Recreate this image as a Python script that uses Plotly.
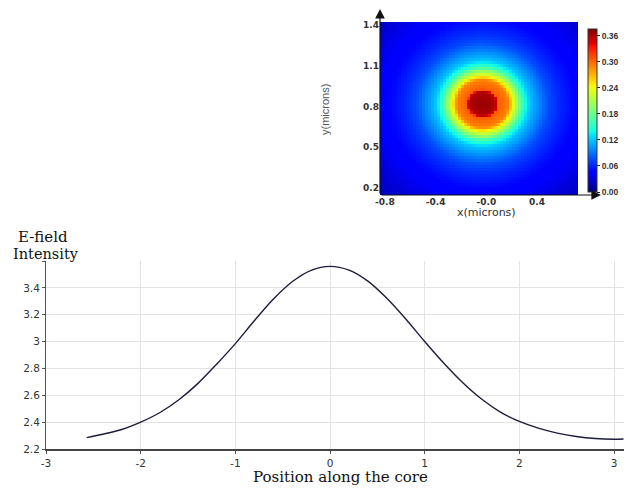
import numpy as np
import plotly.graph_objects as go

# ---------------- data ----------------
# line profile
pos_x = [-2.57, -2.4, -2.2, -2.0, -1.8, -1.6, -1.4, -1.2, -1.0, -0.8, -0.6, -0.4, -0.2,
         0.0, 0.2, 0.4, 0.6, 0.8, 1.0, 1.2, 1.4, 1.6, 1.8, 2.0, 2.2, 2.4, 2.6, 2.8, 3.0, 3.1]
intensity = [2.285, 2.31, 2.345, 2.40, 2.47, 2.565, 2.685, 2.83, 2.985, 3.155, 3.315, 3.445, 3.53,
             3.56, 3.532, 3.45, 3.322, 3.168, 3.0, 2.84, 2.695, 2.572, 2.475, 2.405, 2.355, 2.318,
             2.293, 2.278, 2.273, 2.275]
x_ticks = [-3, -2, -1, 0, 1, 2, 3]
x_ticktext = ["-3", "-2", "-1", "0", "1", "2", "3"]
y_ticks = [2.2, 2.4, 2.6, 2.8, 3.0, 3.2, 3.4, 3.6]
y_ticktext = ["2.2", "2.4", "2.6", "2.8", "3", "3.2", "3.4", ""]

# mode-field radial profile (radius in microns -> field value)
radius_um = [0.00, 0.10, 0.115, 0.125, 0.20, 0.215, 0.237, 0.276, 0.316, 0.37,
             0.45, 0.52, 0.60, 0.70, 0.80, 0.95, 1.15]
field_val = [0.368, 0.36, 0.345, 0.305, 0.29, 0.275, 0.24, 0.20, 0.155, 0.12,
             0.095, 0.075, 0.062, 0.05, 0.042, 0.03, 0.018]
spot_center = (-0.03, 0.82)
hm_xticks = [-0.8, -0.4, 0.0, 0.4]
hm_xticktext = ["-0.8", "-0.4", "-0.0", "0.4"]
hm_yticks = [0.2, 0.5, 0.8, 1.1, 1.4]
hm_yticktext = ["0.2", "0.5", "0.8", "1.1", "1.4"]
cb_ticks = [0.0, 0.06, 0.12, 0.18, 0.24, 0.30, 0.36]
cb_ticktext = ["0.00", "0.06", "0.12", "0.18", "0.24", "0.30", "0.36"]

# ---------------- layout constants ----------------
W, H = 632, 489
def px(xp): return xp / W
def py(yp): return 1 - yp / H

hx_range = [-0.839, 0.723]
hy_range = [0.148, 1.422]

# heatmap grid
nx, ny = 66, 58
dx = (hx_range[1] - hx_range[0]) / nx
dy = (hy_range[1] - hy_range[0]) / ny
gx = hx_range[0] + dx * (np.arange(nx) + 0.5)
gy = hy_range[0] + dy * (np.arange(ny) + 0.5)
GX, GY = np.meshgrid(gx, gy)
R = np.sqrt((GX - spot_center[0]) ** 2 + (1.15 * (GY - spot_center[1])) ** 2)
Z = np.interp(R, radius_um, field_val)

jet = [[0.0, 'rgb(0,0,128)'], [0.11, 'rgb(0,0,255)'], [0.125, 'rgb(0,0,255)'],
       [0.34, 'rgb(0,219,255)'], [0.375, 'rgb(20,255,226)'], [0.64, 'rgb(238,255,8)'],
       [0.66, 'rgb(255,236,0)'], [0.89, 'rgb(255,19,0)'], [0.91, 'rgb(232,0,0)'],
       [1.0, 'rgb(128,0,0)']]

fig = go.Figure()

fig.add_trace(go.Heatmap(
    x=gx, y=gy, z=Z, colorscale=jet, zmin=0.0, zmax=0.375,
    xaxis='x2', yaxis='y2', hoverinfo='skip',
    colorbar=dict(
        x=px(588), xanchor='left', y=py(110.5), yanchor='middle',
        lenmode='pixels', len=163, thicknessmode='pixels', thickness=9,
        xpad=0, ypad=0, outlinewidth=1, outlinecolor='#333',
        tickvals=cb_ticks, ticktext=cb_ticktext, ticks='outside', ticklen=3,
        tickcolor='#222',
        tickfont=dict(family='Arial, Liberation Sans', size=8.5, color='#333', weight='bold'),
    ),
))

fig.add_trace(go.Scatter(
    x=pos_x, y=intensity, mode='lines',
    line=dict(color='#1c1c3c', width=1.4, shape='spline', smoothing=0.8),
    xaxis='x', yaxis='y', hoverinfo='skip', showlegend=False,
))

tickfont = dict(family='DejaVu Sans', size=10.5, color='#333')
hm_tickfont = dict(family='DejaVu Sans', size=9, color='#333', weight='bold')
serif = 'DejaVu Serif'
fig.update_layout(
    width=W, height=H, margin=dict(l=0, r=0, t=0, b=0, autoexpand=False),
    paper_bgcolor='white', plot_bgcolor='white', showlegend=False,
    xaxis=dict(domain=[px(46), px(624)], range=[-3, 3.105], tickvals=x_ticks, ticktext=x_ticktext,
               showgrid=True, gridcolor='#e3e3e3', gridwidth=1, zeroline=False,
               showline=True, linecolor='#444', linewidth=2, ticks='outside', ticklen=3,
               tickcolor='#555', tickfont=tickfont, anchor='y', automargin=False),
    yaxis=dict(domain=[py(449), py(261)], range=[2.2, 3.6], tickvals=y_ticks, ticktext=y_ticktext,
               showgrid=True, gridcolor='#e3e3e3', gridwidth=1, zeroline=False,
               showline=True, linecolor='#555', linewidth=1, ticks='outside', ticklen=3,
               tickcolor='#555', tickfont=tickfont, anchor='x', automargin=False),
    xaxis2=dict(domain=[px(380), px(578)], range=hx_range, tickvals=hm_xticks, ticktext=hm_xticktext,
                showgrid=False, zeroline=False, showline=False, ticks='', anchor='y2',
                tickfont=hm_tickfont, automargin=False),
    yaxis2=dict(domain=[py(195), py(22)], range=hy_range, tickvals=hm_yticks, ticktext=hm_yticktext,
                showgrid=False, zeroline=False, showline=False, ticks='', anchor='x2',
                tickfont=hm_tickfont, automargin=False),
)

# axis titles as text
fig.add_annotation(x=px(16), y=py(237), xref='paper', yref='paper', text='E-field',
                   showarrow=False, xanchor='left', yanchor='middle',
                   font=dict(family=serif, size=15, color='#111'))
fig.add_annotation(x=px(11), y=py(254), xref='paper', yref='paper', text='Intensity',
                   showarrow=False, xanchor='left', yanchor='middle',
                   font=dict(family=serif, size=14.5, color='#111'))
fig.add_annotation(x=px(340), y=py(477), xref='paper', yref='paper', text='Position along the core',
                   showarrow=False, xanchor='center', yanchor='middle',
                   font=dict(family=serif, size=15, color='#111'))
fig.add_annotation(x=px(486), y=py(213), xref='paper', yref='paper', text='x(microns)',
                   showarrow=False, xanchor='center', yanchor='middle',
                   font=dict(family='DejaVu Sans', size=11, color='#333'))
fig.add_annotation(x=px(325), y=py(110), xref='paper', yref='paper', text='y(microns)',
                   showarrow=False, xanchor='center', yanchor='middle', textangle=-90,
                   font=dict(family='Arial, Liberation Sans', size=11, color='#555'))

# arrowed axes for the heatmap
fig.add_annotation(x=px(380), y=py(9), xref='paper', yref='paper', ax=0, ay=186,
                   showarrow=True, arrowhead=2, arrowsize=1.6, arrowwidth=1.2, arrowcolor='#111', text='')
fig.add_annotation(x=px(601), y=py(195), xref='paper', yref='paper', ax=-221, ay=0,
                   showarrow=True, arrowhead=2, arrowsize=1.6, arrowwidth=1.2, arrowcolor='#111', text='')

fig.write_html("out.html", config={'displayModeBar': False},
               post_script="document.body.style.margin='0';")
